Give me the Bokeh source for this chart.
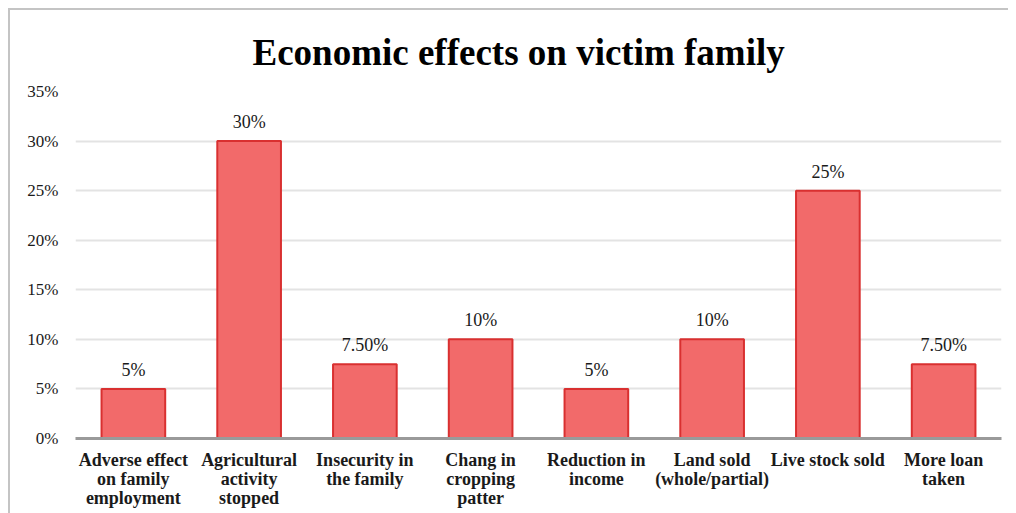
from bokeh.plotting import figure
from bokeh.models import ColumnDataSource, NumeralTickFormatter, FixedTicker, Title
from bokeh.core.properties import value
from bokeh.embed import file_html
from bokeh.resources import INLINE

categories = [
    "Adverse effect\non family\nemployment",
    "Agricultural\nactivity\nstopped",
    "Insecurity in\nthe family",
    "Chang in\ncropping\npatter",
    "Reduction in\nincome",
    "Land sold\n(whole/partial)",
    "Live stock sold",
    "More loan\ntaken",
]
values = [0.05, 0.30, 0.075, 0.10, 0.05, 0.10, 0.25, 0.075]
labels = ["5%", "30%", "7.50%", "10%", "5%", "10%", "25%", "7.50%"]
y_ticks = [0, 0.05, 0.10, 0.15, 0.20, 0.25, 0.30, 0.35]

SERIF = "Liberation Serif"

source = ColumnDataSource(dict(cat=categories, val=values, lab=labels))

p = figure(
    x_range=categories, y_range=(0, 0.35),
    width=1000, height=505,
    output_backend="svg", toolbar_location=None,
    min_border_left=65, min_border_right=9,
    min_border_top=81, min_border_bottom=77,
)
p.margin = (8, 0, 0, 8)
p.styles = {"border-top": "2px solid #c4c4c4", "border-left": "2px solid #c4c4c4",
            "box-sizing": "border-box"}
p.outline_line_color = None

t = Title(text="Economic effects on victim family", align="left",
          text_font=SERIF, text_font_size="37px", text_font_style="bold",
          text_color="#000000", offset=177, standoff=37)
p.add_layout(t, "above")

p.vbar(x="cat", top="val", width=0.55, source=source,
       fill_color="#f26a6a", line_color="#d93030", line_width=2)

p.text(x="cat", y="val", text="lab", source=source,
       text_font=value(SERIF), text_font_size="18px", text_color="#1a1a1a",
       text_align="center", text_baseline="bottom", y_offset=-9)

p.yaxis.ticker = FixedTicker(ticks=y_ticks)
p.yaxis.formatter = NumeralTickFormatter(format="0%")
p.yaxis.axis_line_color = None
p.yaxis.major_tick_line_color = None
p.yaxis.minor_tick_line_color = None
p.yaxis.major_label_text_font = SERIF
p.yaxis.major_label_text_font_size = "17px"
p.yaxis.major_label_text_color = "#1a1a1a"
p.yaxis.major_label_standoff = 11

p.xaxis.axis_line_color = "#9a9a9a"
p.xaxis.axis_line_width = 3
p.xaxis.major_tick_line_color = None
p.xaxis.minor_tick_line_color = None
p.xaxis.major_label_text_font = SERIF
p.xaxis.major_label_text_font_size = "18px"
p.xaxis.major_label_text_font_style = "bold"
p.xaxis.major_label_text_color = "#1a1a1a"
p.xaxis.major_label_standoff = 5
p.xaxis.major_label_text_line_height = 0.95

p.xgrid.grid_line_color = None
p.ygrid.grid_line_color = "#e3e3e3"
p.ygrid.grid_line_width = 2

open("out.html", "w").write(file_html(p, INLINE))
